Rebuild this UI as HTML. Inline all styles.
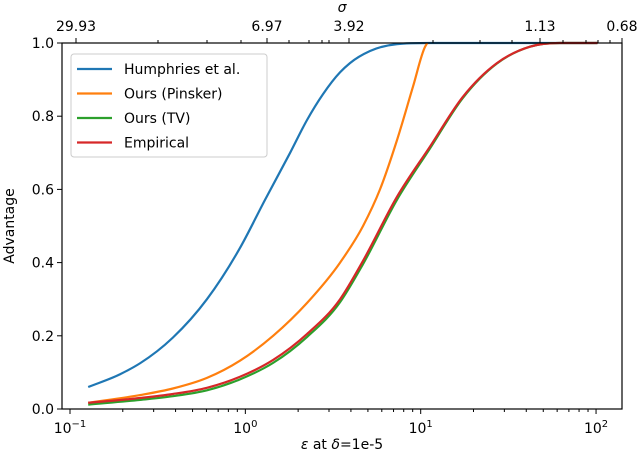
<!DOCTYPE html>
<html><head><meta charset="utf-8"><style>
body{margin:0;background:#fff;font-family:"DejaVu Sans","Liberation Sans",sans-serif;}
svg text{font-family:"DejaVu Sans","Liberation Sans",sans-serif;fill:#000}
</style></head><body>
<svg id="chart" width="640" height="459" viewBox="0 0 640 459" xmlns="http://www.w3.org/2000/svg">
<g id="marks"></g>
<g id="axes"></g>
</svg>
<script>
const seriesNames=["Humphries et al.","Ours (Pinsker)","Ours (TV)","Empirical"];
const seriesColors=["#1f77b4","#ff7f0e","#2ca02c","#d62728"];
const humphriesEps=[0.127,0.193,0.251,0.386,0.604,0.932,1.29,1.80,2.25,2.77,3.47,3.95,5.14,7.33,11.3,102];
const humphriesAdv=[0.06,0.095,0.125,0.195,0.30,0.44,0.57,0.70,0.79,0.86,0.92,0.945,0.978,0.997,1.0,1.0];
const pinskerEps=[0.127,0.251,0.386,0.604,0.932,1.44,2.25,3.47,4.69,5.86,7.33,9.04,10.6,10.9];
const pinskerAdv=[0.017,0.038,0.056,0.085,0.132,0.20,0.29,0.40,0.50,0.60,0.735,0.881,0.99,1.0];
const tvEps=[0.127,0.251,0.386,0.604,0.932,1.44,2.25,3.47,4.69,7.33,11.3,17.4,27.2,42,62,102];
const tvAdv=[0.012,0.025,0.035,0.051,0.081,0.126,0.197,0.292,0.396,0.572,0.712,0.85,0.944,0.99,1.0,1.0];
const empEps=[0.127,0.251,0.386,0.604,0.932,1.44,2.25,3.47,4.69,7.33,11.3,17.4,27.2,42,62,102];
const empAdv=[0.017,0.03,0.041,0.058,0.088,0.134,0.205,0.30,0.405,0.58,0.717,0.853,0.945,0.99,1.0,1.0];
const xTickExps=[-1,0,1,2];
const yTicks=[0,0.2,0.4,0.6,0.8,1.0];
const sigmaLabels=["29.93","6.97","3.92","1.13","0.68"];

const L=62,R=622,T=43,B=409;
const lmin=-1.0456,lmax=2.148;
function sx(e){return L+(Math.log10(e)-lmin)/(lmax-lmin)*(R-L);}
function sy(v){return B-v*(B-T);}
const NS="http://www.w3.org/2000/svg";
function mk(tag,attrs,parent){const e=document.createElementNS(NS,tag);for(const k in attrs)e.setAttribute(k,attrs[k]);parent.appendChild(e);return e;}
function monotonePath(pts){
  const n=pts.length,d=[],m=[];
  for(let i=0;i<n-1;i++)d.push((pts[i+1][1]-pts[i][1])/(pts[i+1][0]-pts[i][0]));
  m[0]=d[0];m[n-1]=d[n-2];
  for(let i=1;i<n-1;i++){if(d[i-1]*d[i]<=0){m[i]=0;}else{const h0=pts[i][0]-pts[i-1][0],h1=pts[i+1][0]-pts[i][0];m[i]=(d[i-1]*h1+d[i]*h0)/(h0+h1);}}
  for(let i=0;i<n-1;i++){if(d[i]===0){m[i]=0;m[i+1]=0;continue;}
    const a=m[i]/d[i],b=m[i+1]/d[i],s=a*a+b*b;if(s>9){const t=3/Math.sqrt(s);m[i]=t*a*d[i];m[i+1]=t*b*d[i];}}
  let p="M"+pts[0][0].toFixed(2)+","+pts[0][1].toFixed(2);
  for(let i=0;i<n-1;i++){const h=(pts[i+1][0]-pts[i][0])/3;
    p+=` C${(pts[i][0]+h).toFixed(2)},${(pts[i][1]+m[i]*h).toFixed(2)} ${(pts[i+1][0]-h).toFixed(2)},${(pts[i+1][1]-m[i+1]*h).toFixed(2)} ${pts[i+1][0].toFixed(2)},${pts[i+1][1].toFixed(2)}`;}
  return p;}
const marks=document.getElementById('marks'),axes=document.getElementById('axes');
const allE=[humphriesEps,pinskerEps,tvEps,empEps],allA=[humphriesAdv,pinskerAdv,tvAdv,empAdv];
[0,1,2,3].forEach(i=>{
  const pts=allE[i].map((e,j)=>[sx(e),sy(allA[i][j])]);
  const p=mk('path',{d:monotonePath(pts),fill:'none',stroke:seriesColors[i],'stroke-width':2.2},marks);
  
  
});
const frame=mk('rect',{x:L,y:T,width:R-L,height:B-T,fill:'none',stroke:'#000','stroke-width':1.2},axes);

xTickExps.forEach(k=>{const x=sx(Math.pow(10,k));
  mk('line',{x1:x,x2:x,y1:B,y2:B+5,stroke:'#000'},axes);
  const t=mk('text',{x:x,y:B+24,'text-anchor':'middle','font-size':14},axes);
  t.textContent='10';const s=mk('tspan',{dy:-6,'font-size':10},t);s.textContent=String(k).replace('-','−');
  
  for(let m=2;m<10;m++){const e=m*Math.pow(10,k);if(Math.log10(e)<lmax){const xm=sx(e);mk('line',{x1:xm,x2:xm,y1:B,y2:B+3,stroke:'#000'},axes);}}
});
yTicks.forEach(v=>{const y=sy(v);mk('line',{x1:L-5,x2:L,y1:y,y2:y,stroke:'#000'},axes);
  const t=mk('text',{x:L-8,y:y+5,'text-anchor':'end','font-size':14},axes);t.textContent=v.toFixed(1);
  });
const topX=[76,267,349,540,622];
sigmaLabels.forEach((s,i)=>{const x=topX[i];mk('line',{x1:x,x2:x,y1:T,y2:T-5,stroke:'#000'},axes);
  const t=mk('text',{x:x,y:31,'text-anchor':'middle','font-size':14},axes);t.textContent=s;
  });
[158,207,241,289,309,322,329,433,480,512,563,586,598,610].forEach(x=>mk('line',{x1:x,x2:x,y1:T,y2:T-3,stroke:'#000'},axes));
let t=mk('text',{x:342,y:12,'text-anchor':'middle','font-size':14,'font-style':'italic'},axes);t.textContent='σ';

t=mk('text',{x:342,y:449,'text-anchor':'middle','font-size':14},axes);t.innerHTML='<tspan font-style="italic">ε</tspan> at <tspan font-style="italic">δ</tspan>=1e-5';

t=mk('text',{x:14,y:226,'text-anchor':'middle','font-size':14,transform:'rotate(-90 14 226)'},axes);t.textContent='Advantage';

const lg=mk('g',{},axes);
mk('rect',{x:71,y:54,width:196,height:103,rx:3,fill:'#fff',stroke:'#ccc'},lg);
seriesNames.forEach((n,i)=>{const y=69+i*24.5;
  const g=mk('g',{},lg);
  mk('line',{x1:77,x2:112,y1:y,y2:y,stroke:seriesColors[i],'stroke-width':2.2},g);
  const tx=mk('text',{x:124,y:y+5,'font-size':14},g);tx.textContent=n;});
</script>
</body></html>
